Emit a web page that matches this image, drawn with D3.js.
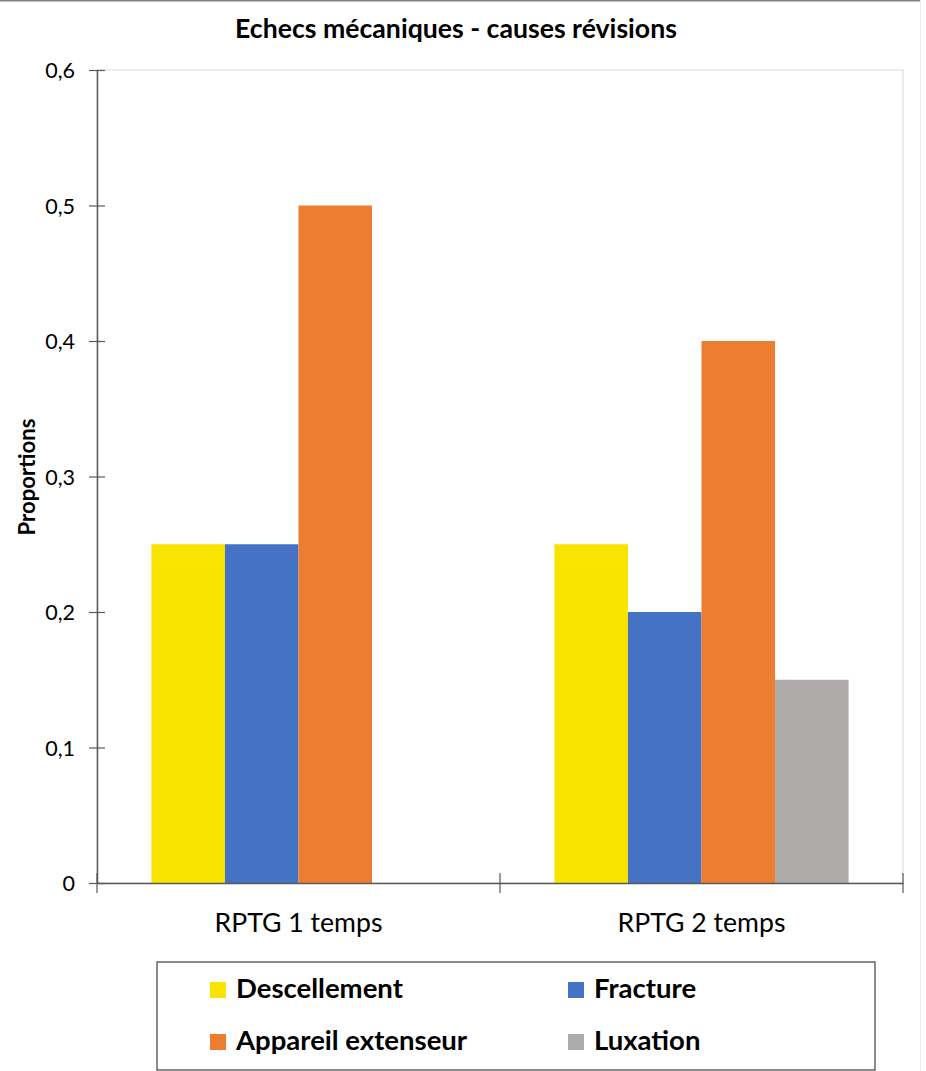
<!DOCTYPE html>
<html>
<head>
<meta charset="utf-8">
<script src="https://cdn.jsdelivr.net/npm/d3@7"></script>
<style>
  html, body { margin: 0; padding: 0; background: #fff; }
  svg { display: block; }
  text { font-family: Lato, "Open Sans", sans-serif; fill: #000; }
</style>
</head>
<body>
<svg id="chart" width="926" height="1071"></svg>
<script>
const title = "Echecs mécaniques - causes révisions";
const yAxisTitle = "Proportions";
const categories = ["RPTG 1 temps", "RPTG 2 temps"];
const seriesNames = ["Descellement", "Fracture", "Appareil extenseur", "Luxation"];
const seriesColors = ["#F9E400", "#4472C4", "#ED7D31", "#AFABAB"];
const descellement = [0.25, 0.25];
const fracture = [0.25, 0.20];
const appareilExtenseur = [0.50, 0.40];
const luxation = [0, 0.15];
const yTicks = [0, 0.1, 0.2, 0.3, 0.4, 0.5, 0.6];

const seriesValues = [descellement, fracture, appareilExtenseur, luxation];

const svg = d3.select("#chart");
const W = 926, H = 1071;

// scale a text's font size so that its rendered width matches a target width
function fit(sel, targetWidth) {
  sel.each(function () {
    const t = d3.select(this);
    const fs = parseFloat(t.attr("font-size"));
    const w = this.getComputedTextLength();
    if (w > 0) t.attr("font-size", (fs * targetWidth / w).toFixed(2));
  });
}

// outer frame lines
svg.append("line").attr("x1", 0).attr("x2", 920).attr("y1", 0.5).attr("y2", 0.5)
  .attr("stroke", "#808080").attr("stroke-width", 2);
svg.append("line").attr("x1", 920.5).attr("x2", 920.5).attr("y1", 0).attr("y2", H)
  .attr("stroke", "#ececec").attr("stroke-width", 1);

const plot = { left: 97, right: 903, top: 70, bottom: 883 };

const x0 = d3.scaleBand().domain(categories).range([plot.left, plot.right]).paddingInner(0).paddingOuter(0);
const x1 = d3.scaleBand().domain(seriesNames).range([0, x0.bandwidth()]).paddingOuter(0.74).paddingInner(0);
const y = d3.scaleLinear().domain([0, 0.6]).range([plot.bottom, plot.top]);

// plot area border (light)
svg.append("rect").attr("x", plot.left).attr("y", plot.top)
  .attr("width", plot.right - plot.left).attr("height", plot.bottom - plot.top)
  .attr("fill", "none").attr("stroke", "#d9d9d9").attr("stroke-width", 1);

// bars
const groups = svg.append("g").selectAll("g").data(categories).join("g")
  .attr("transform", d => `translate(${x0(d)},0)`);
groups.selectAll("rect")
  .data((c, ci) => seriesNames.map((s, si) => ({ s, si, v: seriesValues[si][ci] })))
  .join("rect")
  .attr("x", d => x1(d.s))
  .attr("width", x1.bandwidth())
  .attr("y", d => y(d.v))
  .attr("height", d => y(0) - y(d.v))
  .attr("fill", d => seriesColors[d.si]);

// y axis
const fmt = d => d === 0 ? "0" : d3.format(".1f")(d).replace(".", ",");
const yAxis = svg.append("g").attr("transform", `translate(${plot.left},0)`)
  .call(d3.axisLeft(y).tickValues(yTicks).tickFormat(fmt).tickSizeInner(8).tickSizeOuter(0).tickPadding(14));
yAxis.select(".domain").attr("stroke", "#595959").attr("stroke-width", 1.5);
yAxis.selectAll(".tick line").attr("stroke", "#595959").attr("stroke-width", 1.2).attr("x2", 8).attr("x1", -8);
yAxis.selectAll(".tick text").attr("font-size", 21.5).attr("fill", "#000").attr("dy", "0.35em");

// x axis
const xAxis = svg.append("g").attr("transform", `translate(0,${plot.bottom})`)
  .call(d3.axisBottom(x0).tickSize(0).tickPadding(0));
xAxis.select(".domain").attr("stroke", "#595959").attr("stroke-width", 1.5);
xAxis.selectAll(".tick text").remove();
const boundaries = [plot.left].concat(categories.map(c => x0(c) + x0.bandwidth()));
xAxis.selectAll("line.bnd").data(boundaries).join("line").attr("class", "bnd")
  .attr("x1", d => d).attr("x2", d => d).attr("y1", -10).attr("y2", 10)
  .attr("stroke", "#595959").attr("stroke-width", 1.2);
xAxis.selectAll("text.cat").data(categories).join("text").attr("class", "cat")
  .attr("x", d => x0(d) + x0.bandwidth() / 2).attr("y", 49)
  .attr("text-anchor", "middle").attr("font-size", 26).text(d => d)
  .call(fit, 168);

// title
svg.append("text").attr("x", 456).attr("y", 38).attr("text-anchor", "middle")
  .attr("font-size", 26).attr("font-weight", "bold").text(title)
  .call(fit, 442);

// y axis title
svg.append("text").attr("transform", "translate(35,477) rotate(-90)")
  .attr("text-anchor", "middle").attr("font-size", 21).attr("font-weight", "bold").text(yAxisTitle)
  .call(fit, 117);

// legend
const lg = svg.append("g");
lg.append("rect").attr("x", 157).attr("y", 962).attr("width", 718).attr("height", 108)
  .attr("fill", "none").attr("stroke", "#404040").attr("stroke-width", 1.2);
const legCols = [210, 568], legRows = [982, 1034];
const items = lg.selectAll("g.item").data(seriesNames).join("g").attr("class", "item")
  .attr("transform", (d, i) => `translate(${legCols[i % 2]},${legRows[Math.floor(i / 2)]})`);
items.append("rect").attr("width", 16).attr("height", 16).attr("fill", (d, i) => seriesColors[i]);
const legText = items.append("text").attr("x", 26).attr("y", 16).attr("font-size", 27.5)
  .attr("font-weight", "bold").text(d => d);
// match the reference width of "Descellement" and reuse that size for all items
const ref = legText.filter(d => d === "Descellement");
ref.call(fit, 167);
legText.attr("font-size", ref.attr("font-size"));
</script>
</body>
</html>
